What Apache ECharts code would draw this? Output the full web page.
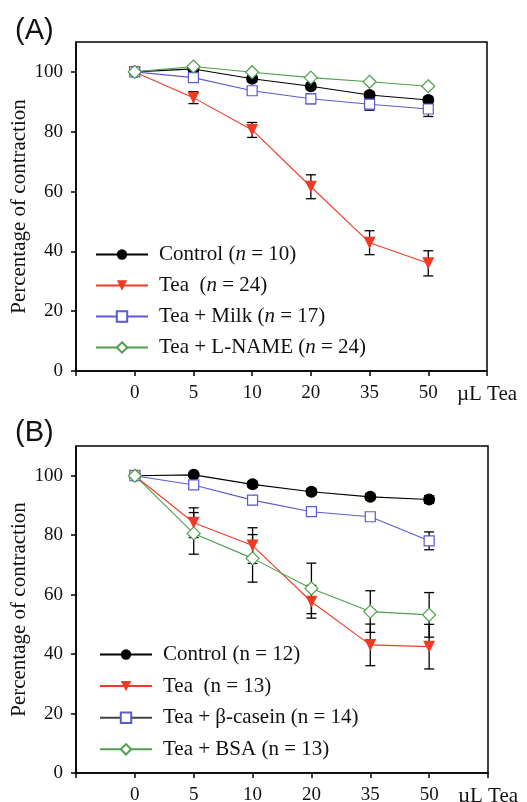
<!DOCTYPE html>
<html>
<head>
<meta charset="utf-8">
<script src="https://cdn.jsdelivr.net/npm/echarts@6/dist/echarts.min.js"></script>
<style>
  html, body { margin: 0; padding: 0; background: #fff; }
  #chart { width: 527px; height: 802px; }
</style>
</head>
<body>
<div id="chart"></div>
<script>
// 剂量（x 轴类别），位置 -1 和 6 只有刻度
const doses = ['0', '5', '10', '20', '35', '50'];
const yTicks = [0, 20, 40, 60, 80, 100];

// 图 A
const ctrlA = [100, 101, 97.7, 95.2, 92.3, 90.6];
const ctrlAErr = [0, 0.8, 1, 1, 1, 1];
const teaA = [100, 91.4, 80.6, 61.6, 42.9, 36.0];
const teaAErr = [0, 2, 2.5, 4, 4, 4.2];
const milkA = [100, 98.1, 93.7, 91.0, 89.2, 87.6];
const milkAErr = [0, 1, 1, 1.6, 2, 2.5];
const lnameA = [100, 101.8, 99.9, 98.1, 96.7, 95.2];
const lnameAErr = [0, 0, 0, 0, 0, 0];

// 图 B
const ctrlB = [100, 100.3, 97.1, 94.6, 92.9, 92.0];
const ctrlBErr = [0, 0.5, 1, 1, 1, 1.3];
const teaB = [100, 84.2, 76.5, 57.6, 43.1, 42.5];
const teaBErr = [0, 5, 6, 5.5, 7, 7.5];
const caseinB = [100, 96.9, 91.8, 87.9, 86.2, 78.1];
const caseinBErr = [0, 1, 1.5, 1.2, 1, 3];
const bsaB = [100, 80.6, 72.2, 62.1, 54.3, 53.2];
const bsaBErr = [0, 7, 8, 8.5, 7, 7.5];

const serif = 'Liberation Serif';
const RED = '#f03a24', BLUE = '#5a5ad2', GREEN = '#4f9f4f';

const chart = echarts.init(document.getElementById('chart'));

function xAxisFor(gi) {
    return {
        type: 'value', gridIndex: gi, min: -1, max: 6, interval: 1,
        axisLine: { show: true, onZero: false, lineStyle: { color: '#000', width: 1.5 } },
        axisTick: { show: true, length: 5, lineStyle: { color: '#000', width: 1.5 } },
        splitLine: { show: false },
        axisLabel: {
            color: '#111', fontFamily: serif, fontSize: 19, margin: 13,
            showMinLabel: true, showMaxLabel: true,
            formatter: v => (v === 6 ? '{u|µL Tea}' : (v >= 0 && v <= 5 ? doses[v] : '')),
            rich: { u: { fontFamily: serif, fontSize: 21, color: '#111' } }
        }
    };
}

function yAxisFor(gi) {
    return {
        type: 'value', gridIndex: gi, min: 0, max: 110,
        name: 'Percentage of contraction', nameLocation: 'middle', nameGap: 46,
        nameMoveOverlap: false,
        nameTextStyle: { color: '#111', fontFamily: serif, fontSize: 21 },
        axisLine: { show: true, onZero: false, lineStyle: { color: '#000', width: 1.5 } },
        axisTick: { show: true, length: 5, customValues: yTicks, lineStyle: { color: '#000', width: 1.5 } },
        splitLine: { show: false },
        axisLabel: { color: '#111', fontFamily: serif, fontSize: 19, margin: 13, customValues: yTicks }
    };
}

function lineSeries(name, values, gi, sym, color, fill, size) {
    return {
        name: name, type: 'line', xAxisIndex: gi, yAxisIndex: gi,
        data: values.map((v, i) => [i, v]),
        symbol: sym, symbolSize: size, symbolRotate: sym === 'triangle' ? 180 : 0,
        lineStyle: { color: color, width: 1.1 },
        itemStyle: { color: fill, borderColor: color, borderWidth: fill === '#fff' ? 1.2 : 0 },
        z: 3
    };
}

function errorSeries(values, errs, gi) {
    const data = [];
    values.forEach((v, i) => {
        if (errs[i] > 0) data.push([i, v - errs[i], v + errs[i]]);
    });
    return {
        type: 'custom', xAxisIndex: gi, yAxisIndex: gi, z: 2, silent: true,
        encode: { x: 0, y: [1, 2] },
        data: data,
        renderItem: function (params, api) {
            const lo = api.coord([api.value(0), api.value(1)]);
            const hi = api.coord([api.value(0), api.value(2)]);
            const w = 5;
            const st = { stroke: '#000', lineWidth: 1.3 };
            return {
                type: 'group',
                children: [
                    { type: 'line', shape: { x1: lo[0], y1: lo[1], x2: hi[0], y2: hi[1] }, style: st },
                    { type: 'line', shape: { x1: lo[0] - w, y1: lo[1], x2: lo[0] + w, y2: lo[1] }, style: st },
                    { type: 'line', shape: { x1: hi[0] - w, y1: hi[1], x2: hi[0] + w, y2: hi[1] }, style: st }
                ]
            };
        }
    };
}

// 图例文字，n 在 A 中为斜体
const legendTextA = {
    'Control A': '{a|Control (}{i|n}{a| = 10)}',
    'Tea A': '{a|Tea  (}{i|n}{a| = 24)}',
    'Milk A': '{a|Tea + Milk (}{i|n}{a| = 17)}',
    'LNAME A': '{a|Tea + L-NAME (}{i|n}{a| = 24)}'
};
const legendTextB = {
    'Control B': 'Control (n = 12)',
    'Tea B': 'Tea  (n = 13)',
    'Casein B': 'Tea + β-casein (n = 14)',
    'BSA B': 'Tea + BSA (n = 13)'
};

function legendFor(names, texts, left, top, gap) {
    return {
        orient: 'vertical', left: left, top: top, padding: 0,
        itemWidth: 52, itemHeight: 13, itemGap: gap,
        data: names,
        formatter: n => texts[n],
        textStyle: {
            color: '#111', fontFamily: serif, fontSize: 21, padding: [0, 0, 0, 6],
            rich: {
                a: { fontFamily: serif, fontSize: 21, color: '#111' },
                i: { fontFamily: serif, fontSize: 21, color: '#111', fontStyle: 'italic' }
            }
        }
    };
}

const option = {
    animation: false,
    backgroundColor: '#fff',
    title: [
        { text: '(A)', left: 10, top: 11, textStyle: { fontFamily: 'Liberation Sans', fontSize: 29, fontWeight: 'normal', color: '#111' } },
        { text: '(B)', left: 10, top: 413, textStyle: { fontFamily: 'Liberation Sans', fontSize: 29, fontWeight: 'normal', color: '#111' } }
    ],
    grid: [
        { left: 76, top: 42, width: 411, height: 329, show: true, borderColor: '#000', borderWidth: 1.5, outerBoundsMode: 'none' },
        { left: 76, top: 446, width: 412, height: 327, show: true, borderColor: '#000', borderWidth: 1.5, outerBoundsMode: 'none' }
    ],
    xAxis: [xAxisFor(0), xAxisFor(1)],
    yAxis: [yAxisFor(0), yAxisFor(1)],
    legend: [
        legendFor(['Control A', 'Tea A', 'Milk A', 'LNAME A'], legendTextA, 95, 244, 10),
        legendFor([
            'Control B', 'Tea B',
            { name: 'Casein B', lineStyle: { color: '#444' } },
            'BSA B'
        ], legendTextB, 99, 644, 10.6)
    ],
    series: [
        errorSeries(ctrlA, ctrlAErr, 0),
        errorSeries(teaA, teaAErr, 0),
        errorSeries(milkA, milkAErr, 0),
        errorSeries(lnameA, lnameAErr, 0),
        lineSeries('Control A', ctrlA, 0, 'circle', '#000', '#000', 12),
        lineSeries('Tea A', teaA, 0, 'triangle', RED, RED, 12),
        lineSeries('Milk A', milkA, 0, 'rect', BLUE, '#fff', 10),
        lineSeries('LNAME A', lnameA, 0, 'diamond', GREEN, '#fff', 13),

        errorSeries(ctrlB, ctrlBErr, 1),
        errorSeries(teaB, teaBErr, 1),
        errorSeries(caseinB, caseinBErr, 1),
        errorSeries(bsaB, bsaBErr, 1),
        lineSeries('Control B', ctrlB, 1, 'circle', '#000', '#000', 12),
        lineSeries('Tea B', teaB, 1, 'triangle', RED, RED, 12),
        lineSeries('Casein B', caseinB, 1, 'rect', BLUE, '#fff', 10),
        lineSeries('BSA B', bsaB, 1, 'diamond', GREEN, '#fff', 13)
    ]
};

chart.setOption(option);
</script>
</body>
</html>
